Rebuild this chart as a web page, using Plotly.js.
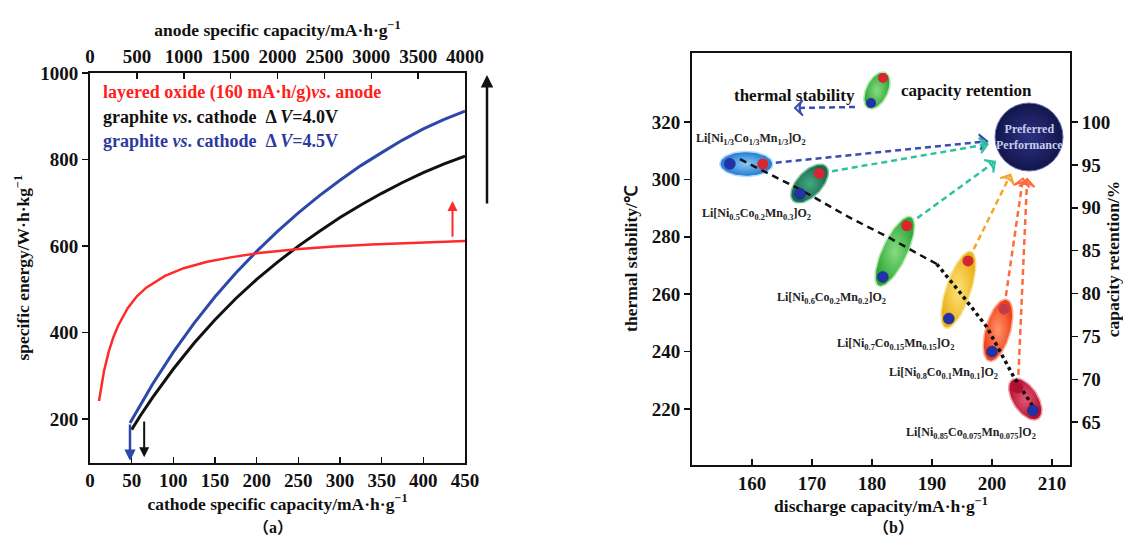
<!DOCTYPE html>
<html><head><meta charset="utf-8">
<script src="https://cdn.plot.ly/plotly-3.0.1.min.js"></script>
<style>html,body{margin:0;padding:0;background:#fff}#chart{width:1123px;height:535px}</style>
</head><body><div id="chart"></div>
<script>
// ===== DATA (a) =====
const cathodeCap45 = [48,60,75,100,125,150,175,200,225,250,275,300,325,350,375,400,425,450];
const energy45     = [191,232,281,355,422,483,538,588,634,677,716,752,786,816,845,871,893,912];
const cathodeCap40 = [50,60,75,100,125,150,175,200,225,250,275,300,325,350,375,400,425,450];
const energy40     = [176,207,250,316,376,430,479,523,563,600,634,666,695,722,747,770,790,808];
const anodeCap     = [96,120,150,200,250,300,400,500,600,800,1000,1250,1500,1800,2200,2600,3000,3500,4000];
const energyOxide  = [242,278,312,356,390,416,456,484,504,531,549,564,574,584,593,599,604,608,612];
const cathodeTicks = [0,50,100,150,200,250,300,350,400,450];
const anodeTicks   = [0,500,1000,1500,2000,2500,3000,3500,4000];
const energyTicks  = [200,400,600,800,1000];

// ===== DATA (b) =====
const materials = [
  'Li[Ni<sub>1/3</sub>Co<sub>1/3</sub>Mn<sub>1/3</sub>]O<sub>2</sub>',
  'Li[Ni<sub>0.5</sub>Co<sub>0.2</sub>Mn<sub>0.3</sub>]O<sub>2</sub>',
  'Li[Ni<sub>0.6</sub>Co<sub>0.2</sub>Mn<sub>0.2</sub>]O<sub>2</sub>',
  'Li[Ni<sub>0.7</sub>Co<sub>0.15</sub>Mn<sub>0.15</sub>]O<sub>2</sub>',
  'Li[Ni<sub>0.8</sub>Co<sub>0.1</sub>Mn<sub>0.1</sub>]O<sub>2</sub>',
  'Li[Ni<sub>0.85</sub>Co<sub>0.075</sub>Mn<sub>0.075</sub>]O<sub>2</sub>'
];
const capThermal   = [156.3,168.0,181.8,192.8,200.0,206.8];
const thermal      = [305.4,295.0,266.0,251.5,240.0,219.5];
const capRetention = [161.8,171.2,185.8,196.0,202.0,204.3];
const retention    = [95.1,94.0,87.9,83.8,78.2,69.0];
const trendDashCap = [158,168,176,183,189,190.8];
const trendDashT   = [307,296.5,287,279.5,272.5,270.5];
const trendDotCap  = [190.8,194.7,199.1,202.4,203.6,207.2];
const trendDotT    = [270.5,260.5,248.7,236,231.3,219.7];
const capTicks     = [160,170,180,190,200,210];
const thermTicks   = [220,240,260,280,300,320];
const retTicks     = [65,70,75,80,85,90,95,100];

// ===== GEOMETRY =====
const W=1123,H=535;
const L={x0:90,x1:465,y0:73,y1:462.5};
const R={x0:692,x1:1070,y0:53,y1:465};
const RX=[150,213], RY2=[200.5,344], RY3=[60,108.05];
const SERIF='Liberation Serif, Times New Roman, serif';
const xp = v => R.x0+(v-RX[0])/(RX[1]-RX[0])*(R.x1-R.x0);
const y2p = v => R.y1-(v-RY2[0])/(RY2[1]-RY2[0])*(R.y1-R.y0);
const y3p = v => R.y1-(v-RY3[0])/(RY3[1]-RY3[0])*(R.y1-R.y0);
const px2x = p => RX[0]+(p-R.x0)/(R.x1-R.x0)*(RX[1]-RX[0]);
const py2y = p => RY2[0]+(R.y1-p)/(R.y1-R.y0)*(RY2[1]-RY2[0]);
function P(px,py){return {xref:'paper',yref:'paper',x:px/W,y:1-py/H};}
function txt(px,py,text,font,extra){
  return Object.assign(P(px,py),{text:text,showarrow:false,xanchor:'center',yanchor:'middle',
    font:Object.assign({family:SERIF,size:17,color:'#111',weight:'bold'},font||{})},extra||{});
}

const traces=[];
// (a) curves
traces.push({x:anodeCap,y:energyOxide,xaxis:'x3',yaxis:'y',mode:'lines',line:{color:'#ff2a2a',width:2.5},hoverinfo:'skip'});
traces.push({x:cathodeCap40,y:energy40,xaxis:'x',yaxis:'y',mode:'lines',line:{color:'#111',width:3},hoverinfo:'skip'});
traces.push({x:cathodeCap45,y:energy45,xaxis:'x',yaxis:'y',mode:'lines',line:{color:'#2c48a8',width:3},hoverinfo:'skip'});

// (b) ellipses
const ellBase =['#1f78d1','#176a4c','#2fa83a','#e9b21c','#f0401a','#b8102f'];
const ellLight=['#8cc8f7','#45a883','#86dc80','#ffe37a','#ff9468','#e25a74'];
const ellRim  =['#b5dbf7','#7fc0a5','#b4e8ad','#f8e29a','#fbb096','#eaa0ad'];
function ellipse(cx,cy,ang,a,b,base,light,rim){
  const xs=[],ys=[];
  for(let k=0;k<=72;k++){
    const t=k/72*2*Math.PI;
    const px=cx+a*Math.cos(t)*Math.cos(ang)-b*Math.sin(t)*Math.sin(ang);
    const py=cy+a*Math.cos(t)*Math.sin(ang)+b*Math.sin(t)*Math.cos(ang);
    xs.push(px2x(px)); ys.push(py2y(py));
  }
  return {x:xs,y:ys,xaxis:'x2',yaxis:'y2',mode:'lines',fill:'toself',fillcolor:base,
    fillgradient:{type:'radial',colorscale:[[0,light],[1,base]]},
    line:{color:rim,width:1.5},hoverinfo:'skip'};
}
for(let i=0;i<capThermal.length;i++){
  const bx=xp(capThermal[i]),by=y2p(thermal[i]),rx=xp(capRetention[i]),ry=y3p(retention[i]);
  const d=Math.hypot(rx-bx,ry-by);
  traces.push(ellipse((bx+rx)/2,(by+ry)/2,Math.atan2(ry-by,rx-bx),d/2+10,12.5,ellBase[i],ellLight[i],ellRim[i]));
}
// legend ellipse
const LG={bx:871,by:103,rx:883,ry:78};
traces.push(ellipse((LG.bx+LG.rx)/2,(LG.by+LG.ry)/2,Math.atan2(LG.ry-LG.by,LG.rx-LG.bx),
  Math.hypot(LG.rx-LG.bx,LG.ry-LG.by)/2+6,11,ellBase[2],ellLight[2],ellRim[2]));

// trend line
traces.push({x:trendDashCap,y:trendDashT,xaxis:'x2',yaxis:'y2',mode:'lines',line:{color:'#111',width:2.5,dash:'7px,5px'},hoverinfo:'skip'});
traces.push({x:trendDotCap,y:trendDotT,xaxis:'x2',yaxis:'y2',mode:'lines',line:{color:'#111',width:3.5,dash:'dot'},hoverinfo:'skip'});

// preferred performance
const PC={x:1029,y:137};
const arrowCol=['#3a4db0','#2cc3a0','#2cc3a0','#f7a52a','#ff6b3d','#ff6b3d'];
function dashArrow(sx,sy,ex,ey,col){
  return {x:[px2x(sx),px2x(ex)],y:[py2y(sy),py2y(ey)],xaxis:'x2',yaxis:'y2',mode:'lines+markers',
    line:{color:col,width:2.5,dash:'6px,4px'},
    marker:{symbol:'arrow-wide-open',size:11,opacity:[0,1],angleref:'previous',color:col,line:{color:col,width:2}},
    hoverinfo:'skip'};
}
for(let i=0;i<capRetention.length;i++){
  const rx=xp(capRetention[i]),ry=y3p(retention[i]);
  const dx=PC.x-rx,dy=PC.y-ry,d=Math.hypot(dx,dy),ux=dx/d,uy=dy/d;
  traces.push(dashArrow(rx+ux*13,ry+uy*13,PC.x-ux*42,PC.y-uy*42,arrowCol[i]));
}
traces.push(dashArrow(855,107,795,108,arrowCol[0]));

traces.push({x:[px2x(PC.x)],y:[py2y(PC.y)],xaxis:'x2',yaxis:'y2',mode:'markers',
  marker:{size:68,color:'#12164c',gradient:{type:'radial',color:'#2c3284'},line:{color:'#6a70b0',width:1}},hoverinfo:'skip'});

// dots
traces.push({x:capThermal,y:thermal,xaxis:'x2',yaxis:'y2',mode:'markers',
  marker:{size:11,color:'#2233a8',line:{color:'#1a237e',width:0.5}},hoverinfo:'skip'});
traces.push({x:capRetention,y:retention,xaxis:'x2',yaxis:'y3',mode:'markers',
  marker:{size:11,color:['#d9262e','#d9262e','#d9262e','#d0282e','#c33a48','#b01030'],line:{width:0}},hoverinfo:'skip'});
traces.push({x:[px2x(LG.bx),px2x(LG.rx)],y:[py2y(LG.by),py2y(LG.ry)],xaxis:'x2',yaxis:'y2',mode:'markers',
  marker:{size:10,color:['#2233a8','#d9262e']},hoverinfo:'skip'});

const tickFont={family:SERIF,size:19,color:'#111',weight:'bold'};
const titleFont={family:SERIF,size:17.5,color:'#111',weight:'bold'};
const axBase={showgrid:false,zeroline:false,showline:true,linecolor:'#111',linewidth:2,
  tickcolor:'#111',tickwidth:1.5,ticklen:6,tickfont:tickFont,tickmode:'array'};

const annotations=[
  txt(101,92,'layered oxide (160 mA·h/g)<i>vs</i>. anode',{color:'#ff2020',size:18},{xanchor:'left'}),
  txt(101,117,'graphite <i>vs</i>. cathode  Δ <i>V</i>=4.0V',{color:'#111',size:18},{xanchor:'left'}),
  txt(101,141,'graphite <i>vs</i>. cathode  Δ <i>V</i>=4.5V',{color:'#2c3a9e',size:18},{xanchor:'left'}),
  txt(273,527,'（a）',{size:16,family:SERIF+', Noto Sans CJK SC'}),
  txt(893,527,'（b）',{size:16,family:SERIF+', Noto Sans CJK SC'}),
  txt(794,95,'thermal stability',{size:17}),
  txt(966,90,'capacity retention',{size:17}),
  txt(PC.x,PC.y,'Preferred<br>Performance',{size:12,color:'#c9cdea'}),
  // arrows (a)
  {xref:'x',yref:'y',axref:'x',ayref:'y',x:48,y:104,ax:48,ay:191,text:'',showarrow:true,arrowhead:2,arrowsize:0.9,arrowwidth:2.5,arrowcolor:'#2c48a8'},
  {xref:'x',yref:'y',axref:'x',ayref:'y',x:65,y:112,ax:65,ay:198,text:'',showarrow:true,arrowhead:2,arrowsize:1,arrowwidth:2,arrowcolor:'#111'},
  {xref:'x',yref:'y',axref:'x',ayref:'y',x:435,y:704,ax:435,ay:618,text:'',showarrow:true,arrowhead:2,arrowsize:1,arrowwidth:2,arrowcolor:'#ff2a2a'},
  Object.assign(P(487,75),{axref:'pixel',ayref:'pixel',ax:0,ay:130,text:'',showarrow:true,arrowhead:2,arrowsize:1,arrowwidth:2.5,arrowcolor:'#111'})
];
const labelPos=[[751,139],[756,214],[831,298],[895,344],[943,373],[971,433]];
materials.forEach((m,i)=>annotations.push(txt(labelPos[i][0],labelPos[i][1],m,{size:12,color:'#222'})));

const layout={
  width:W,height:H,margin:{l:0,r:0,t:0,b:0,pad:0},paper_bgcolor:'#fff',plot_bgcolor:'rgba(0,0,0,0)',
  showlegend:false,hovermode:false,
  xaxis:Object.assign({},axBase,{domain:[L.x0/W,L.x1/W],range:[0,450],anchor:'y',tickvals:cathodeTicks,ticks:'inside',mirror:false,
    title:{text:'cathode specific capacity/mA·h·g<sup>−1</sup>',font:titleFont,standoff:4}}),
  xaxis3:Object.assign({},axBase,{overlaying:'x',side:'top',anchor:'y',range:[0,4000],tickvals:anodeTicks,ticks:'inside',
    title:{text:'anode specific capacity/mA·h·g<sup>−1</sup>',font:titleFont,standoff:5}}),
  yaxis:Object.assign({},axBase,{domain:[1-L.y1/H,1-L.y0/H],range:[100,1000],anchor:'x',tickvals:energyTicks,ticks:'outside',mirror:true,
    title:{text:'specific energy/W·h·kg<sup>−1</sup>',font:titleFont,standoff:6}}),
  xaxis2:Object.assign({},axBase,{domain:[R.x0/W,R.x1/W],range:RX,anchor:'y2',tickvals:capTicks,ticks:'inside',mirror:true,
    title:{text:'discharge capacity/mA·h·g<sup>−1</sup>',font:titleFont,standoff:3}}),
  yaxis2:Object.assign({},axBase,{domain:[1-R.y1/H,1-R.y0/H],range:RY2,anchor:'x2',tickvals:thermTicks,ticks:'outside',
    title:{text:'thermal stability/℃',font:titleFont,standoff:10}}),
  yaxis3:Object.assign({},axBase,{overlaying:'y2',side:'right',anchor:'x2',range:RY3,tickvals:retTicks,ticks:'outside',
    title:{text:'capacity retention/%',font:titleFont,standoff:10}}),
  annotations:annotations
};
Plotly.newPlot('chart',traces,layout,{displayModeBar:false,staticPlot:true});
</script></body></html>
